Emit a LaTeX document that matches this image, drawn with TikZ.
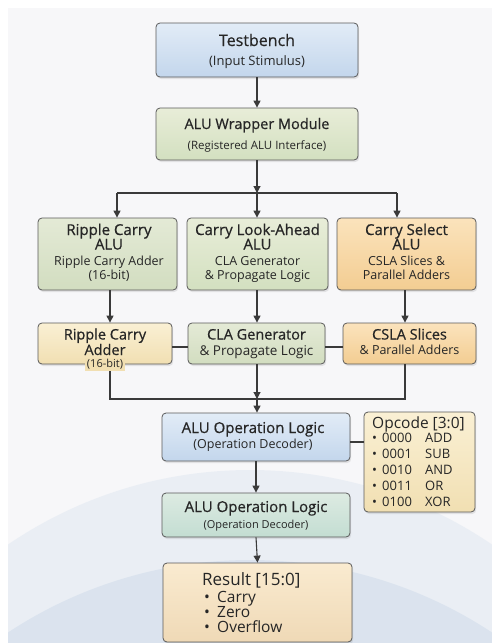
\documentclass[tikz,border=0pt]{standalone}
\usepackage{fontspec}
\setmainfont{Open Sans}
\newfontfamily\ttlfont[FakeBold=0.6]{Open Sans}
\usetikzlibrary{arrows.meta,shadows,calc}

\definecolor{edge}{HTML}{5A5A5A}
\definecolor{wire}{HTML}{3A3A3A}
\definecolor{ink}{HTML}{262626}
\definecolor{paper}{HTML}{F7F7F9}
\definecolor{domeA}{HTML}{DCE5F0}
\definecolor{domeB}{HTML}{C9D7E8}
\definecolor{blueA}{HTML}{E2ECF7}\definecolor{blueB}{HTML}{C3D6EC}
\definecolor{greenA}{HTML}{E8EDD8}\definecolor{greenB}{HTML}{D3E0C0}
\definecolor{oliveA}{HTML}{E4EAD6}\definecolor{oliveB}{HTML}{D2DDC0}
\definecolor{orangeA}{HTML}{FBE3BC}\definecolor{orangeB}{HTML}{F3CD92}
\definecolor{creamA}{HTML}{FAF0D4}\definecolor{creamB}{HTML}{F1DFB2}
\definecolor{tealA}{HTML}{DDEBE2}\definecolor{tealB}{HTML}{C3DDD2}
\definecolor{resA}{HTML}{FAEBD0}\definecolor{resB}{HTML}{EFD9B6}

\newcommand\fs[1]{\fontsize{#1}{#1}\selectfont}

\tikzset{
  box/.style={draw=edge, line width=0.8pt, rounded corners=4pt, inner sep=0pt,
    drop shadow={opacity=0.18, shadow xshift=1.2pt, shadow yshift=-2pt}},
  ttl/.style={anchor=base, text=ink, inner sep=0pt, font=\ttlfont\fs{15}},
  ttlreg/.style={anchor=base, text=ink, inner sep=0pt, font=\fs{13.5}},
  sub/.style={anchor=base, text=ink, inner sep=0pt, font=\fs{12.5}},
  row/.style={anchor=base west, text=ink, inner sep=0pt, font=\fs{13}},
  rrow/.style={anchor=base west, text=ink, inner sep=0pt, font=\fs{15.5}},
  flow/.style={draw=wire, line width=1.1pt, -{Triangle[length=7pt,width=7pt]}},
  link/.style={draw=wire, line width=1.1pt},
}

\begin{document}
\begin{tikzpicture}[x=1pt, y=-1pt]
  % page and soft backdrop
  \fill[white] (0,0) rectangle (492,643);
  \fill[paper] (8,8) rectangle (492,643);
  \begin{scope}
    \clip (8,8) rectangle (492,643);
    \fill[domeA, opacity=0.45] (250,900) circle (430);
    \fill[domeB, opacity=0.45] (250,1000) circle (440);
    \draw[white, line width=2pt, opacity=0.8] (250,1000) ++(160:440) arc (160:60:440);
    \draw[white, line width=1.5pt, opacity=0.7] (250,900) ++(155:430) arc (155:100:430);
  \end{scope}
  \useasboundingbox (0,0) rectangle (492,643);

  % top chain
  \node[box, top color=blueA, bottom color=blueB, minimum width=202pt, minimum height=54pt] (tb) at (257,50) {};
  \node[ttl, font=\ttlfont\fs{16}] (tbt) at (257,46) {Testbench};
  \node[sub, font=\fs{13}] (tbs) at (257,65.5) {(Input Stimulus)};

  \node[box, top color=greenA, bottom color=greenB, minimum width=202pt, minimum height=52pt] (wr) at (257,134) {};
  \node[ttl, font=\ttlfont\fs{14.5}] (wrt) at (257,129) {ALU Wrapper Module};
  \node[sub, font=\fs{11.5}] (wrs) at (257,149) {(Registered ALU Interface)};

  % ALU variants
  \node[box, top color=oliveA, bottom color=oliveB, minimum width=139pt, minimum height=72pt] (rca) at (107.5,254) {};
  \node[ttl] (rcat1) at (109,235) {Ripple Carry};
  \node[ttl] (rcat2) at (109,249.5) {ALU};
  \node[sub] (rcas1) at (109,265) {Ripple Carry Adder};
  \node[sub] (rcas2) at (109,279) {(16-bit)};

  \node[box, top color=greenA, bottom color=greenB, minimum width=141pt, minimum height=72pt] (cla) at (257.5,254) {};
  \node[ttl] (clat1) at (257.5,235) {Carry Look-Ahead};
  \node[ttl] (clat2) at (257.5,249.5) {ALU};
  \node[sub] (clas1) at (257.5,265) {CLA Generator};
  \node[sub] (clas2) at (257.5,279) {\& Propagate Logic};

  \node[box, top color=orangeA, bottom color=orangeB, minimum width=139pt, minimum height=72pt] (csa) at (406.5,254) {};
  \node[ttl] (csat1) at (406.5,235) {Carry Select};
  \node[ttl] (csat2) at (406.5,249.5) {ALU};
  \node[sub] (csas1) at (406.5,265) {CSLA Slices \&};
  \node[sub] (csas2) at (406.5,279) {Parallel Adders};

  % adder blocks
  \node[box, top color=creamA, bottom color=creamB, minimum width=134pt, minimum height=41pt] (rcadd) at (105,343.5) {};
  \node[ttl, font=\ttlfont\fs{14.5}] (rcaddt1) at (105,339.5) {Ripple Carry};
  \node[ttl, font=\ttlfont\fs{14.5}] (rcaddt2) at (105,355) {Adder};

  \node[box, top color=oliveA, bottom color=oliveB, minimum width=137pt, minimum height=41pt] (clagen) at (256.5,343.5) {};
  \node[ttl, font=\ttlfont\fs{14.5}] (clagent1) at (256.5,339.5) {CLA Generator};
  \node[ttlreg] (clagent2) at (256.5,355) {\& Propagate Logic};

  \node[box, top color=orangeA, bottom color=orangeB, minimum width=133pt, minimum height=41pt] (csla) at (409.5,343.5) {};
  \node[ttl, font=\ttlfont\fs{14.5}] (cslat1) at (409.5,339.5) {CSLA Slices};
  \node[sub] (cslat2) at (409.5,354.5) {\& Parallel Adders};

  % decoder and outputs
  \node[box, top color=blueA, bottom color=blueB, minimum width=188pt, minimum height=48pt] (op1) at (256,437) {};
  \node[ttl] (op1t) at (253,433) {ALU Operation Logic};
  \node[sub] (op1s) at (253,448.5) {(Operation Decoder)};

  \node[box, top color=creamA, bottom color=creamB, minimum width=111pt, minimum height=100pt] (opc) at (419.5,462) {};
  \node[row, font=\fs{15.5}] (opct) at (372,428) {Opcode [3:0]};
  \foreach \i/\c/\o in {0/0000/ADD,1/0001/SUB,2/0010/AND,3/0011/OR,4/0100/XOR}{
    \node[row] (opcb\i) at (372,442+16*\i) {•};
    \node[row] (opcc\i) at (382,442+16*\i) {\c};
    \node[row] (opco\i) at (425,442+16*\i) {\o};
  }

  \node[box, top color=tealA, bottom color=tealB, minimum width=188pt, minimum height=44pt] (op2) at (256,515) {};
  \node[ttl] (op2t) at (256,512) {ALU Operation Logic};
  \node[sub, font=\fs{11}] (op2s) at (256,528) {(Operation Decoder)};

  \node[box, top color=resA, bottom color=resB, minimum width=189pt, minimum height=79pt] (res) at (257.5,602.5) {};
  \node[rrow, font=\fs{17}] (rest) at (202,585) {Result [15:0]};
  \foreach \i/\t in {0/Carry,1/Zero,2/Overflow}{
    \node[rrow] (resb\i) at (204,602+15.2*\i) {•};
    \node[rrow] (rest\i) at (217,602+15.2*\i) {\t};
  }

  % wiring
  \coordinate (j1) at (257,193);
  \coordinate (h1) at (117,193);
  \coordinate (h3) at (397,193);
  \coordinate (v1) at (110,0);
  \coordinate (v3) at (405,0);
  \coordinate (j2) at (257,399);
  \coordinate (k) at (0,347);
  \coordinate (m) at (0,442);

  \draw[flow] (tb.south) -- (wr.north);
  \draw[flow] (wr.south) -- (j1);
  \draw[link] (h1) -- (h3);
  \draw[flow] (h1) -- (h1 |- rca.north);
  \draw[flow] (j1) -- (j1 |- cla.north);
  \draw[flow] (h3) -- (h3 |- csa.north);

  \draw[flow] (v1 |- rca.south) -- (v1 |- rcadd.north);
  \draw[flow] (cla.south -| j1) -- (j1 |- clagen.north);
  \draw[flow] (v3 |- csa.south) -- (v3 |- csla.north);

  \draw[link] (rcadd.east |- k) -- (clagen.west |- k);
  \draw[link] (clagen.east |- k) -- (csla.west |- k);

  \draw[link] (v1 |- rcadd.south) -- (v1 |- j2) -- (v3 |- j2) -- (v3 |- csla.south);
  \draw[flow] (clagen.south -| j2) -- (j2);
  \draw[flow] (j2) -- (j2 |- op1.north);

  % width label sitting on the adder's lower edge
  \node[sub, anchor=center, font=\fs{11}, fill=creamB, inner xsep=2pt, inner ysep=1pt] (rcadds) at (105,364.5) {(16-bit)};

  \draw[link] (op1.east |- m) -- (opc.west |- m);
  \draw[flow] (op1.south) -- (op2.north);
  \draw[flow] (op2.south) -- (res.north);
\end{tikzpicture}
\end{document}
